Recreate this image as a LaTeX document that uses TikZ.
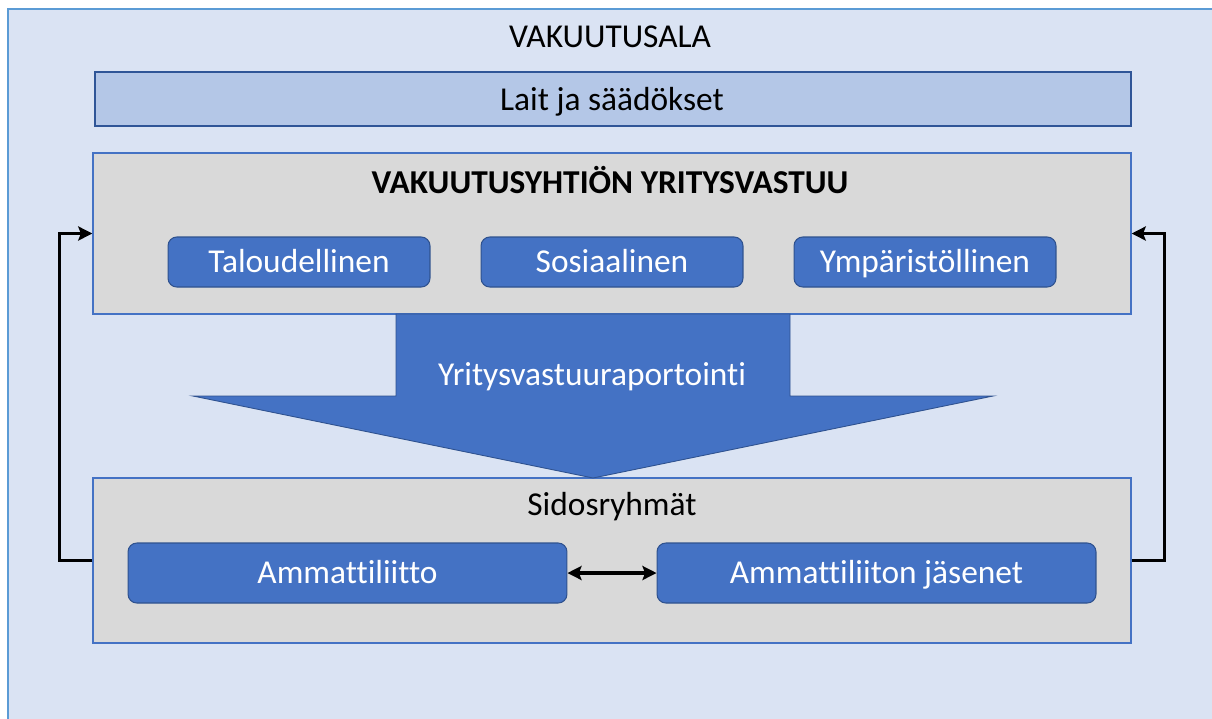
\documentclass[tikz,border=0pt]{standalone}
\usepackage{fontspec}
\setmainfont{Carlito}[Ligatures=NoCommon]
\usetikzlibrary{arrows.meta}
\definecolor{outerfill}{HTML}{DAE3F3}
\definecolor{outerline}{HTML}{5B9BD5}
\definecolor{lawfill}{HTML}{B4C7E7}
\definecolor{lawline}{HTML}{2F5597}
\definecolor{grayfill}{HTML}{D9D9D9}
\definecolor{grayline}{HTML}{4472C4}
\definecolor{btnfill}{HTML}{4472C4}
\definecolor{btnline}{HTML}{2F528F}
\tikzset{
  txt/.style={font=\fontsize{19}{23}\selectfont, inner sep=0pt},
  panel/.style={draw=grayline, fill=grayfill, line width=0.9pt, inner sep=0pt, minimum width=20.76cm},
  btn/.style={draw=btnline, fill=btnfill, line width=0.6pt, rounded corners=5pt, text=white,
    font=\fontsize{19}{23}\selectfont, text height=12.2pt, text depth=0pt, inner sep=0pt},
  fb/.style={draw=black, line width=2pt, -{Stealth[length=8pt,width=8pt,inset=1.5pt]}},
  dbl/.style={draw=black, line width=2pt, {Stealth[length=8pt,width=8pt,inset=1.5pt]}-{Stealth[length=8pt,width=8pt,inset=1.5pt]}}
}
\begin{document}
\begin{tikzpicture}[x=0.02cm,y=-0.02cm]
\clip (0,0) rectangle (1212,718);
\fill[white] (0,0) rectangle (1212,718);
% outer frame
\draw[fill=outerfill, draw=outerline, line width=1.2pt] (8,9) rectangle (1240,740);
\node[txt, anchor=base] (title) at (610,47) {VAKUUTUSALA};
% laws
\node[draw=lawline, fill=lawfill, line width=1.4pt, minimum width=20.72cm, minimum height=1.08cm, inner sep=0pt] (laws) at (613,99) {};
\node[txt, anchor=base] (lawtxt) at (612,110) {Lait ja säädökset};
% corporate responsibility panel
\node[panel, minimum height=3.22cm] (corp) at (612,233.5) {};
\node[txt, anchor=base, font=\fontsize{19}{23}\selectfont\bfseries] (corptxt) at (610,193) {VAKUUTUSYHTIÖN YRITYSVASTUU};
\node[btn, minimum width=5.24cm, minimum height=1.0cm] (tal) at (299,262) {Taloudellinen};
\node[btn, minimum width=5.24cm, minimum height=1.0cm] (sos) at (612,262) {Sosiaalinen};
\node[btn, minimum width=5.24cm, minimum height=1.0cm] (ymp) at (925,262) {Ympäristöllinen};
% stakeholders panel
\node[panel, minimum height=3.30cm] (stake) at (612,560.5) {};
\node[txt, anchor=base] (staketxt) at (612,515) {Sidosryhmät};
\node[btn, minimum width=8.78cm, minimum height=1.2cm] (amm) at (347.5,573) {Ammattiliitto};
\node[btn, minimum width=8.78cm, minimum height=1.2cm] (jas) at (876.5,573) {Ammattiliiton jäsenet};
% big reporting arrow
\draw[fill=btnfill, draw=btnline, line width=0.5pt]
  (396,314) -- (790,314) -- (790,396) -- (993,396) -- (593,478) -- (193,396) -- (396,396) -- cycle;
\node[txt, anchor=base, text=white] (rep) at (592,385) {Yritysvastuuraportointi};
% connectors
\draw[dbl] (amm.east) -- (jas.west);
\draw[fb] (stake.west) -- ++(-33,0) |- (corp.west);
\draw[fb] (stake.east) -- ++(33,0) |- (corp.east);
\end{tikzpicture}
\end{document}
